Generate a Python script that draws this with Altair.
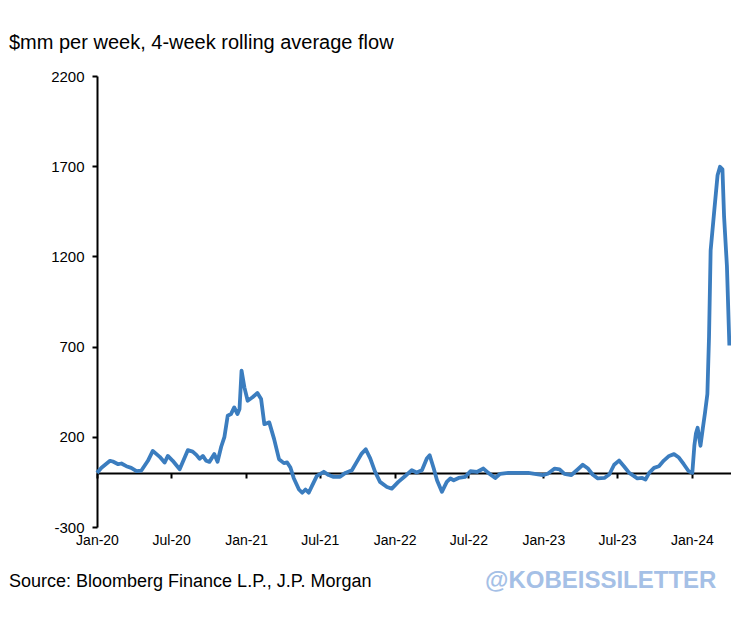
import altair as alt
import pandas as pd

dates = [
    "2020-01-01", "2020-01-12", "2020-02-02", "2020-02-09", "2020-02-22", "2020-03-01",
    "2020-03-13", "2020-03-25", "2020-04-07", "2020-04-19", "2020-05-05", "2020-05-17",
    "2020-06-03", "2020-06-15", "2020-06-23", "2020-07-05", "2020-07-22", "2020-08-11",
    "2020-08-23", "2020-09-01", "2020-09-09", "2020-09-17", "2020-09-25", "2020-10-03",
    "2020-10-15", "2020-10-23", "2020-11-01", "2020-11-09", "2020-11-17", "2020-11-25",
    "2020-12-03", "2020-12-11", "2020-12-16", "2020-12-21", "2020-12-28", "2021-01-05",
    "2021-01-17", "2021-01-29", "2021-02-07", "2021-02-15", "2021-02-27", "2021-03-11",
    "2021-03-23", "2021-04-04", "2021-04-12", "2021-04-20", "2021-04-28", "2021-05-11",
    "2021-05-19", "2021-05-27", "2021-06-04", "2021-06-12", "2021-06-24", "2021-07-11",
    "2021-07-23", "2021-08-04", "2021-08-20", "2021-09-02", "2021-09-18", "2021-09-30",
    "2021-10-12", "2021-10-22", "2021-11-02", "2021-11-14", "2021-11-26", "2021-12-13",
    "2021-12-25", "2022-01-10", "2022-01-27", "2022-02-12", "2022-02-24", "2022-03-09",
    "2022-03-21", "2022-03-28", "2022-04-07", "2022-04-15", "2022-04-27", "2022-05-09",
    "2022-05-18", "2022-05-26", "2022-06-07", "2022-06-23", "2022-07-06", "2022-07-22",
    "2022-08-07", "2022-08-19", "2022-09-05", "2022-09-17", "2022-10-07", "2022-10-31",
    "2022-11-25", "2022-12-11", "2022-12-31", "2023-01-12", "2023-01-29", "2023-02-10",
    "2023-02-22", "2023-03-11", "2023-03-27", "2023-04-08", "2023-04-20", "2023-05-02",
    "2023-05-15", "2023-05-31", "2023-06-12", "2023-06-24", "2023-07-06", "2023-07-18",
    "2023-07-31", "2023-08-12", "2023-08-20", "2023-09-01", "2023-09-09", "2023-09-18",
    "2023-09-30", "2023-10-12", "2023-10-24", "2023-11-06", "2023-11-18", "2023-11-30",
    "2023-12-12", "2023-12-24", "2024-01-02", "2024-01-07", "2024-01-11", "2024-01-15",
    "2024-01-22", "2024-01-28", "2024-02-02", "2024-02-08", "2024-02-12", "2024-02-16",
    "2024-02-25", "2024-03-04", "2024-03-10", "2024-03-16", "2024-03-20", "2024-03-27",
    "2024-04-02",
]
flows = [
    0, 28, 67, 63, 48, 52,
    37, 28, 10, 13, 67, 122,
    89, 57, 94, 67, 20, 126,
    118, 100, 78, 94, 67, 61,
    104, 62, 145, 200, 317, 326,
    363, 326, 354, 567, 474, 400,
    419, 443, 410, 270, 280, 187,
    76, 54, 58, 30, -28, -92,
    -110, -92, -110, -72, -17, 6,
    -12, -22, -22, 0, 15, 61,
    107, 131, 80, 6, -50, -78,
    -87, -50, -17, 15, 2, 15,
    80, 98, 24, -41, -105, -50,
    -31, -41, -28, -22, 9, 5,
    24, 0, -28, -5, 0, 0,
    0, -5, -12, -5, 24, 20,
    -5, -12, 20, 45, 26, -9,
    -31, -28, -9, 45, 68, 37,
    0, -18, -31, -28, -37, 0,
    28, 37, 68, 94, 104, 85,
    48, 9, 0, 150, 220, 250,
    150, 250, 330, 437, 752, 1233,
    1456, 1650, 1697, 1683, 1420, 1146,
    706,
]

y_ticks = [-300, 200, 700, 1200, 1700, 2200]
x_ticks = ["2020-01-01", "2020-07-01", "2021-01-01", "2021-07-01", "2022-01-01",
           "2022-07-01", "2023-01-01", "2023-07-01", "2024-01-01"]
x_start, x_end = "2020-01-01", "2024-04-06"

title_text = "$mm per week, 4-week rolling average flow"
source_text = "Source: Bloomberg Finance L.P., J.P. Morgan"
mark_text = "@KOBEISSILETTER"

df = pd.DataFrame({"date": pd.to_datetime(dates), "flow": flows})

FONT = "Liberation Sans, Arial, sans-serif"
W, H = 634, 451

x_enc = alt.X(
    "date:T",
    scale=alt.Scale(domain=[x_start, x_end]),
    axis=alt.Axis(
        values=[alt.DateTime(year=int(d[:4]), month=int(d[5:7]), date=1) for d in x_ticks],
        format="%b-%y", title=None, grid=False, offset=-54,
        domainColor="black", domainWidth=2, tickColor="black", tickWidth=2, tickSize=5,
        labelPadding=55, labelFontSize=14, labelFont=FONT, labelColor="black",
        labelFlush=False, labelOverlap=False,
    ),
)
y_enc = alt.Y(
    "flow:Q",
    scale=alt.Scale(domain=[-300, 2200], nice=False),
    axis=alt.Axis(
        values=y_ticks, labelExpr="'' + datum.value", title=None, grid=False,
        domainColor="black", domainWidth=2, tickColor="black", tickWidth=2, tickSize=5,
        labelPadding=8, labelFontSize=15, labelFont=FONT, labelColor="black",
    ),
)

line = alt.Chart(df).mark_line(color="#3b7dbf", strokeWidth=3.8, strokeJoin="round").encode(
    x=x_enc, y=y_enc
)

def label(txt, x, y, size, color="black", weight="normal"):
    return alt.Chart(pd.DataFrame({"t": [txt]})).mark_text(
        align="left", baseline="middle", fontSize=size, font=FONT,
        color=color, fontWeight=weight,
    ).encode(x=alt.value(x), y=alt.value(y), text="t:N")

title = label(title_text, -88, -33, 20)
source = label(source_text, -88, 506, 18)
wm = label(mark_text, 388, 505, 24, color="#a5c0e6", weight="bold")

chart = alt.layer(line, title, source, wm).properties(
    width=W, height=H,
    autosize=alt.AutoSizeParams(type="none"),
    padding={"left": 89, "top": 68, "right": 0, "bottom": 89},
    background="white",
).configure_view(stroke=None)

chart.save("out.html", embed_options={"renderer": "svg", "actions": False})
